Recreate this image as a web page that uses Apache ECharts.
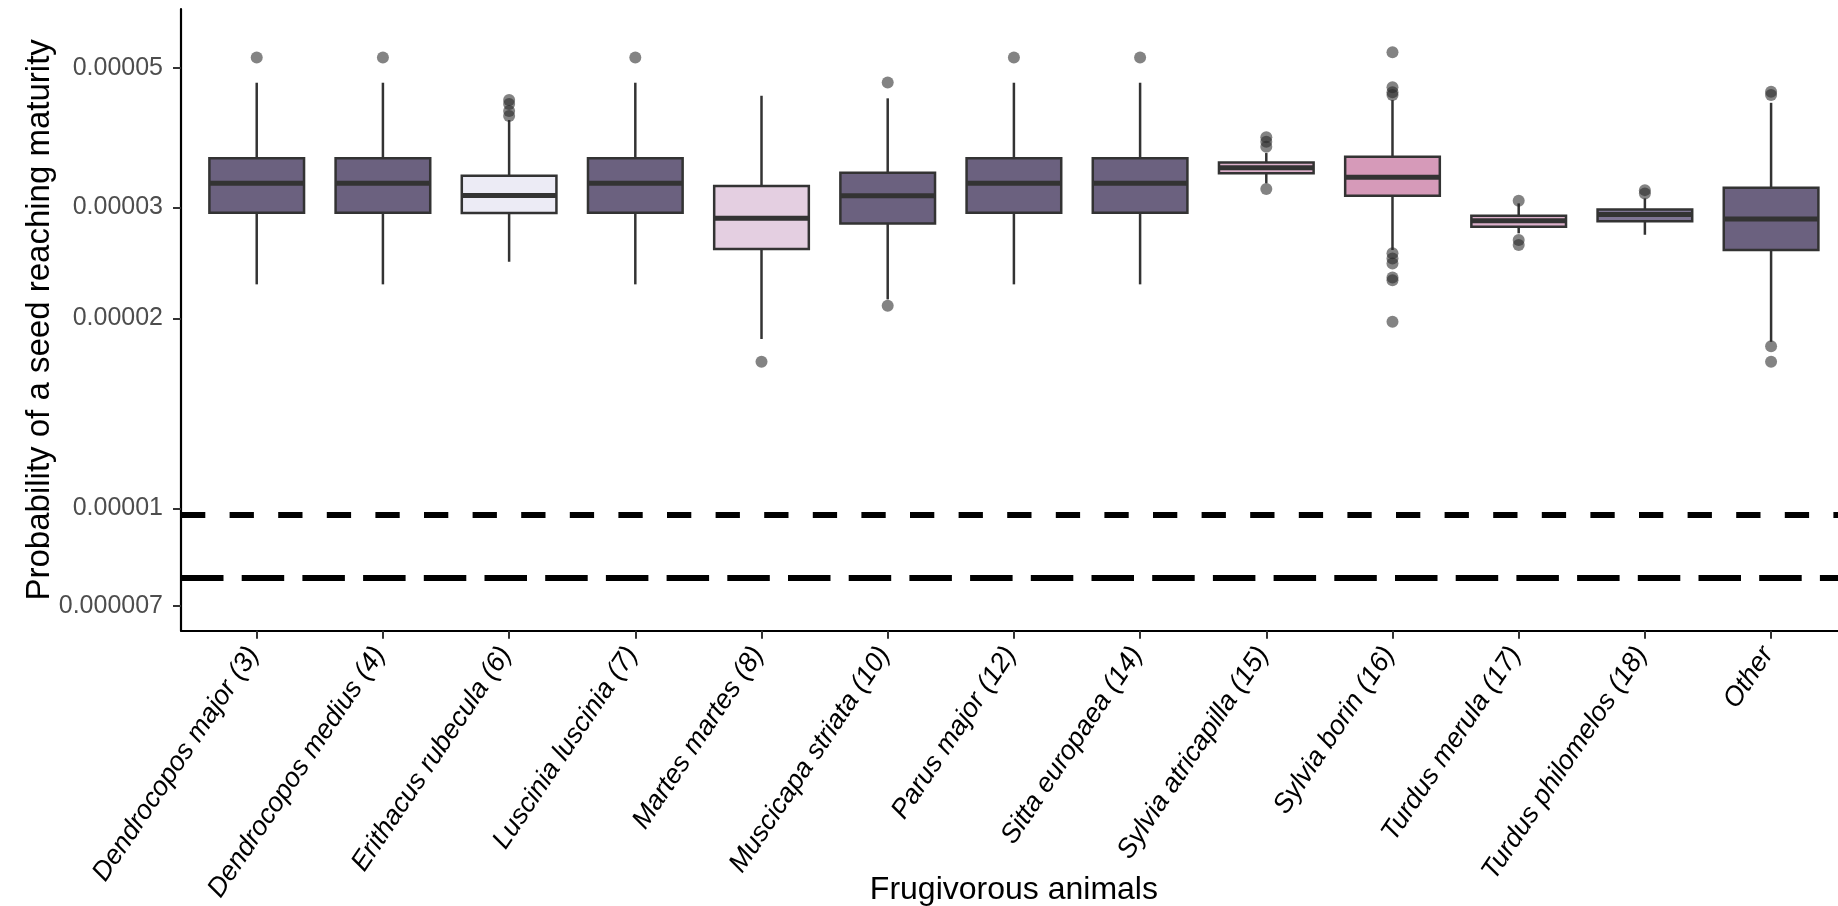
<!DOCTYPE html>
<html>
<head>
<meta charset="utf-8">
<script src="https://cdn.jsdelivr.net/npm/echarts@6/dist/echarts.min.js"></script>
<style>
html,body{margin:0;padding:0;background:#fff;}
#chart{width:1838px;height:906px;}
</style>
</head>
<body>
<div id="chart"></div>
<script>
// ---- data ----
const categories = [
  'Dendrocopos major (3)', 'Dendrocopos medius (4)', 'Erithacus rubecula (6)',
  'Luscinia luscinia (7)', 'Martes martes (8)', 'Muscicapa striata (10)',
  'Parus major (12)', 'Sitta europaea (14)', 'Sylvia atricapilla (15)',
  'Sylvia borin (16)', 'Turdus merula (17)', 'Turdus philomelos (18)', 'Other'
];
const whiskerLow  = [2.266e-5, 2.266e-5, 2.461e-5, 2.266e-5, 1.856e-5, 2.145e-5, 2.266e-5, 2.266e-5, 3.278e-5, 2.569e-5, 2.730e-5, 2.716e-5, 1.837e-5];
const quartile1   = [2.944e-5, 2.944e-5, 2.940e-5, 2.944e-5, 2.578e-5, 2.831e-5, 2.944e-5, 2.944e-5, 3.399e-5, 3.131e-5, 2.796e-5, 2.854e-5, 2.569e-5];
const medians     = [3.278e-5, 3.278e-5, 3.136e-5, 3.278e-5, 2.886e-5, 3.131e-5, 3.278e-5, 3.278e-5, 3.469e-5, 3.350e-5, 2.858e-5, 2.926e-5, 2.876e-5];
const quartile3   = [3.591e-5, 3.591e-5, 3.370e-5, 3.591e-5, 3.245e-5, 3.407e-5, 3.591e-5, 3.591e-5, 3.538e-5, 3.612e-5, 2.911e-5, 2.979e-5, 3.225e-5];
const whiskerHigh = [4.733e-5, 4.733e-5, 4.130e-5, 4.733e-5, 4.513e-5, 4.471e-5, 4.733e-5, 4.733e-5, 3.661e-5, 4.442e-5, 3.046e-5, 3.102e-5, 4.398e-5];
const outliers = [
  [5.19e-5],
  [5.19e-5],
  [4.442e-5, 4.378e-5, 4.268e-5, 4.190e-5],
  [5.19e-5],
  [1.708e-5],
  [4.739e-5, 2.096e-5],
  [5.19e-5],
  [5.19e-5],
  [3.877e-5, 3.815e-5, 3.746e-5, 3.209e-5],
  [5.290e-5, 4.654e-5, 4.571e-5, 4.525e-5, 2.538e-5, 2.491e-5, 2.446e-5, 2.324e-5, 2.301e-5, 1.977e-5],
  [3.075e-5, 2.664e-5, 2.616e-5],
  [3.197e-5, 3.159e-5],
  [4.580e-5, 4.525e-5, 1.808e-5, 1.708e-5]
];
const thresholds = [9.71e-6, 7.756e-6];
const yTickValues = [7e-6, 1e-5, 2e-5, 3e-5, 5e-5];
const yTickLabels = ['0.000007', '0.00001', '0.00002', '0.00003', '0.00005'];
const yRange = [6.394e-6, 6.196e-5];

// ---- styles ----
const boxColors = ['#6B617F', '#6B617F', '#ECEBF5', '#6B617F', '#E4CFE1', '#6B617F', '#6B617F',
                   '#6B617F', '#DDB0CB', '#D69AB9', '#DDB0CB', '#7F7595', '#6B617F'];
const FONT = '"Liberation Sans", Arial, sans-serif';

const L = Math.log10;
const boxData = categories.map((c, i) => [i, L(whiskerLow[i]), L(quartile1[i]), L(medians[i]), L(quartile3[i]), L(whiskerHigh[i])]);
const outlierData = [];
outliers.forEach((arr, i) => arr.forEach(v => outlierData.push([i, L(v)])));
const catIdx = categories.map((c, i) => i);
const yTickLogs = yTickValues.map(L);

const chart = echarts.init(document.getElementById('chart'), null, {renderer: 'canvas'});
chart.setOption({
  animation: false,
  backgroundColor: '#ffffff',
  grid: {left: 181, top: 9, width: 1665.8, height: 621.7, containLabel: false, outerBoundsMode: 'none'},
  xAxis: {
    type: 'value', min: -0.6, max: 12.6,
    splitLine: {show: false},
    axisLine: {show: true, onZero: false, lineStyle: {color: '#000', width: 2.2}},
    axisTick: {show: true, customValues: catIdx, length: 8, lineStyle: {color: '#333', width: 2}},
    axisLabel: {
      customValues: catIdx, rotate: 56, margin: 14, fontSize: 27, fontStyle: 'italic',
      color: '#000', fontFamily: FONT, padding: [0, 6, 0, 0],
      formatter: v => categories[Math.round(v)]
    },
    name: 'Frugivorous animals', nameLocation: 'middle', nameGap: 243, nameMoveOverlap: false,
    nameTextStyle: {fontSize: 32, color: '#000', fontFamily: FONT}
  },
  yAxis: {
    type: 'value', min: L(yRange[0]), max: L(yRange[1]),
    splitLine: {show: false},
    axisLine: {show: true, onZero: false, lineStyle: {color: '#000', width: 2.2}},
    axisTick: {show: true, customValues: yTickLogs, length: 8, lineStyle: {color: '#333', width: 2}},
    axisLabel: {
      customValues: yTickLogs, margin: 18, fontSize: 25, color: '#4D4D4D', fontFamily: FONT,
      formatter: v => {
        let best = 0;
        yTickLogs.forEach((t, k) => { if (Math.abs(t - v) < Math.abs(yTickLogs[best] - v)) best = k; });
        return yTickLabels[best];
      }
    },
    name: 'Probability of a seed reaching maturity', nameLocation: 'middle', nameGap: 125, nameMoveOverlap: false,
    nameTextStyle: {fontSize: 33, color: '#000', fontFamily: FONT}
  },
  series: [
    {
      type: 'custom',
      data: boxData,
      encode: {x: 0, y: [1, 2, 3, 4, 5]},
      z: 2,
      renderItem: function (params, api) {
        const i = api.value(0);
        const lo = api.coord([i, api.value(1)]);
        const b1 = api.coord([i, api.value(2)]);
        const md = api.coord([i, api.value(3)]);
        const b3 = api.coord([i, api.value(4)]);
        const hi = api.coord([i, api.value(5)]);
        const w = api.size([0.75, 0])[0];
        const cx = lo[0];
        const stroke = '#333333';
        return {
          type: 'group',
          children: [
            {type: 'line', shape: {x1: cx, y1: lo[1], x2: cx, y2: b1[1]}, style: {stroke: stroke, lineWidth: 2.5}},
            {type: 'line', shape: {x1: cx, y1: b3[1], x2: cx, y2: hi[1]}, style: {stroke: stroke, lineWidth: 2.5}},
            {type: 'rect', shape: {x: cx - w / 2, y: b3[1], width: w, height: b1[1] - b3[1]},
             style: {fill: boxColors[params.dataIndex], stroke: stroke, lineWidth: 2.5}},
            {type: 'line', shape: {x1: cx - w / 2, y1: md[1], x2: cx + w / 2, y2: md[1]},
             style: {stroke: stroke, lineWidth: 5}}
          ]
        };
      }
    },
    {
      type: 'scatter',
      data: outlierData,
      symbol: 'circle',
      symbolSize: 12,
      z: 3,
      itemStyle: {color: 'rgba(40,40,40,0.72)'},
      markLine: {
        silent: true, symbol: 'none', animation: false,
        label: {show: false},
        data: [
          {yAxis: L(thresholds[0]), lineStyle: {type: [24.3, 24.3], width: 6, color: '#000'}},
          {yAxis: L(thresholds[1]), lineStyle: {type: [42.5, 18.2], width: 6, color: '#000'}}
        ]
      }
    }
  ]
});
</script>
</body>
</html>
